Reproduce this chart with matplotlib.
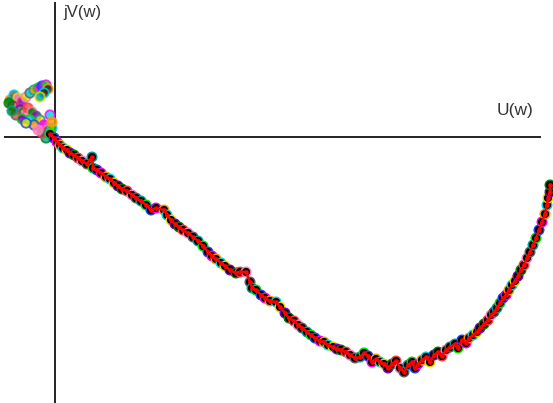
import itertools
import numpy as np
import matplotlib
matplotlib.use("Agg")
import matplotlib.pyplot as plt

# Nyquist-style locus, U(w) vs jV(w); units are arbitrary
# starting cluster near the origin (upper left)
cluster_pts = [(-45, 37), (-41, 42), (-37, 39), (-42, 31), (-46, 34), (-33, 35),
               (-29, 40), (-25, 44), (-21, 47), (-17, 49), (-13, 51), (-9, 52),
               (-7, 48), (-11, 44), (-15, 40), (-35, 27), (-31, 24), (-27, 29),
               (-23, 25), (-19, 21), (-15, 17), (-25, 17), (-21, 12), (-11, 12),
               (-7, 7), (-3, 9), (-5, 3), (-1, -1), (-9, -1), (-13, 4), (-17, 7),
               (-39, 22), (-43, 26), (-33, 18), (-29, 14), (-5, 22), (-3, 15)]

# main locus
locus_pts = [(-5, 3), (-1, -1), (2, -5), (5, -8), (8, -11), (12, -13), (15, -16),
             (19, -18), (23, -21), (27, -24), (32, -27), (37, -20), (38, -31),
             (42, -33), (46, -36), (51, -40), (55, -42), (59, -46), (63, -49),
             (67, -52), (72, -54), (77, -58), (81, -61), (86, -64), (91, -68),
             (96, -73), (101, -71), (109, -73), (112, -78), (116, -83), (120, -87),
             (124, -90), (128, -93), (133, -96), (138, -100), (143, -104),
             (148, -109), (153, -115), (157, -119), (161, -122), (166, -126),
             (170, -129), (175, -133), (181, -136), (185, -135), (191, -135),
             (195, -145), (197, -151), (201, -153), (206, -158), (210, -161),
             (215, -164), (221, -165), (225, -170), (230, -176), (234, -181),
             (239, -184), (243, -188), (247, -191), (252, -195), (256, -198),
             (260, -201), (265, -204), (269, -205), (273, -208), (278, -210),
             (282, -212), (286, -213), (291, -215), (295, -218), (300, -221),
             (305, -220), (309, -216), (313, -219), (317, -225), (321, -222),
             (325, -225), (329, -227), (333, -231), (337, -227), (341, -224),
             (345, -231), (349, -235), (353, -228), (357, -225), (360, -231),
             (363, -227), (367, -223), (371, -220), (375, -225), (379, -218),
             (383, -215), (387, -219), (391, -213), (395, -210), (400, -207),
             (403, -211), (407, -203), (411, -206), (414, -201), (418, -198),
             (422, -195), (425, -191), (429, -187), (433, -183), (436, -178),
             (439, -175), (442, -171), (445, -166), (448, -161), (451, -158),
             (454, -153), (457, -148), (460, -144), (463, -139), (466, -133),
             (469, -128), (472, -121), (475, -115), (478, -108), (481, -101),
             (484, -93), (487, -85), (490, -77), (492, -68), (493, -61),
             (495, -55), (495, -48)]

cluster_u, cluster_v = zip(*cluster_pts)
locus_u, locus_v = zip(*locus_pts)

edge_cycle = ["#00e000", "#2040ff", "#ff00ff", "#ff9900", "#00d0e0", "#e0e000",
              "#8000c0", "#008000", "#ff4040", "#ff80c0", "#606060", "#00a0a0"]

fig = plt.figure(figsize=(5.53, 4.03), dpi=100)
ax = fig.add_axes([0, 0, 1, 1])
ax.set_xlim(-55, 498)
ax.set_ylim(-266, 137)
ax.axis("off")

# axes cross
ax.plot([-50, 485], [0, 0], color="#222222", lw=1.4, zorder=1)
ax.plot([0, 0], [134, -266], color="#222222", lw=1.4, zorder=1)

ax.text(8, 132, "jV(w)", fontsize=12, family="Liberation Sans",
        color="#333333", va="top", ha="left")
ax.text(442, 22, "U(w)", fontsize=12.5, family="Liberation Sans",
        color="#333333", va="baseline", ha="left")

c_edges = list(itertools.islice(itertools.cycle(edge_cycle[3:] + edge_cycle[:3]), len(cluster_u)))
c_faces = list(itertools.islice(itertools.cycle(edge_cycle[::-1] + ["#222222", "#222222"]),
                                len(cluster_u)))
ax.scatter(cluster_u, cluster_v, s=46, facecolors=c_faces, edgecolors=c_edges,
           linewidths=1.3, zorder=2, alpha=0.8)

l_edges = list(itertools.islice(itertools.cycle(edge_cycle), len(locus_u)))
ax.scatter(locus_u, locus_v, s=48, facecolors="black", edgecolors=l_edges,
           linewidths=1.0, zorder=3)
ax.plot(locus_u, locus_v, color="red", lw=1.8, marker="o", markersize=3.4,
        markeredgewidth=0, zorder=4)

fig.savefig("out.png", dpi=100)
